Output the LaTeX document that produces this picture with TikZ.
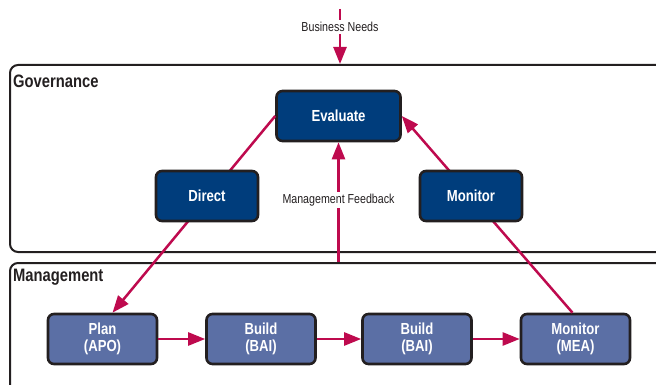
\documentclass[tikz,border=0pt]{standalone}
\usepackage{fontspec}
\setmainfont{Liberation Sans}[FakeStretch=0.82]
\usetikzlibrary{arrows.meta}
\definecolor{inkline}{HTML}{231F20}
\definecolor{govfill}{HTML}{003D7C}
\definecolor{mgmtfill}{HTML}{5B6FA5}
\definecolor{flowred}{HTML}{BE0A4E}
\tikzset{
  area/.style={draw=inkline, line width=2pt, rounded corners=8pt, anchor=north west, inner sep=0pt},
  arealabel/.style={anchor=west, inner sep=0pt, text=inkline, font=\bfseries\fontsize{18}{20}\selectfont},
  govbox/.style={draw=inkline, line width=2.6pt, rounded corners=6pt, fill=govfill, text=white,
    minimum height=50pt, inner sep=0pt, align=center, font=\bfseries\fontsize{16}{17}\selectfont},
  mgmtbox/.style={govbox, fill=mgmtfill, minimum width=109pt},
  flow/.style={draw=flowred, line width=2.5pt, -{Triangle[length=17pt,width=13pt]}},
  flowlabel/.style={fill=white, inner sep=2pt, text=inkline, font=\fontsize{13}{15}\selectfont}
}
\begin{document}
\begin{tikzpicture}[x=1pt,y=-1pt]
\useasboundingbox (0,0) rectangle (656,385);
\clip (0,0) rectangle (656,385);

% the two layers
\node[area, minimum width=670pt, minimum height=187pt] (gov) at (9,64) {};
\node[area, minimum width=670pt, minimum height=150pt] (mgmt) at (9,262) {};
\node[arealabel] (govlabel) at (13,81) {Governance};
\node[arealabel] (mgmtlabel) at (13,277) {Management};

% governance and management activities
\node[govbox, minimum width=124pt] (eval) at (338.5,116) {Evaluate};
\node[mgmtbox] (plan) at (102.5,339) {Plan\\(APO)};
\node[mgmtbox] (build1) at (261,339) {Build\\(BAI)};
\node[mgmtbox] (build2) at (417,339) {Build\\(BAI)};
\node[mgmtbox] (mea) at (575.5,339) {Monitor\\(MEA)};

% incoming needs
\coordinate (needs) at (340,9);
\draw[flow] (needs) -- (needs |- gov.north)
  node[flowlabel, pos=0.33] (needslabel) {Business Needs};

% direction and monitoring paths
\draw[flow] (eval.west) -- ([xshift=10pt]plan.north);
\draw[flow] ([xshift=-3pt]mea.north) -- (eval.east);

% feedback from management
\draw[flow] (eval.south |- mgmt.north) -- (eval.south)
  node[flowlabel, pos=0.52] (fblabel) {Management Feedback};

% management chain
\draw[flow] (plan.east) -- (build1.west);
\draw[flow] (build1.east) -- (build2.west);
\draw[flow] (build2.east) -- (mea.west);

% nodes lying on the paths
\node[govbox, minimum width=102pt] (direct) at (207,196) {Direct};
\node[govbox, minimum width=102pt] (monitor) at (471,196) {Monitor};
\end{tikzpicture}
\end{document}
